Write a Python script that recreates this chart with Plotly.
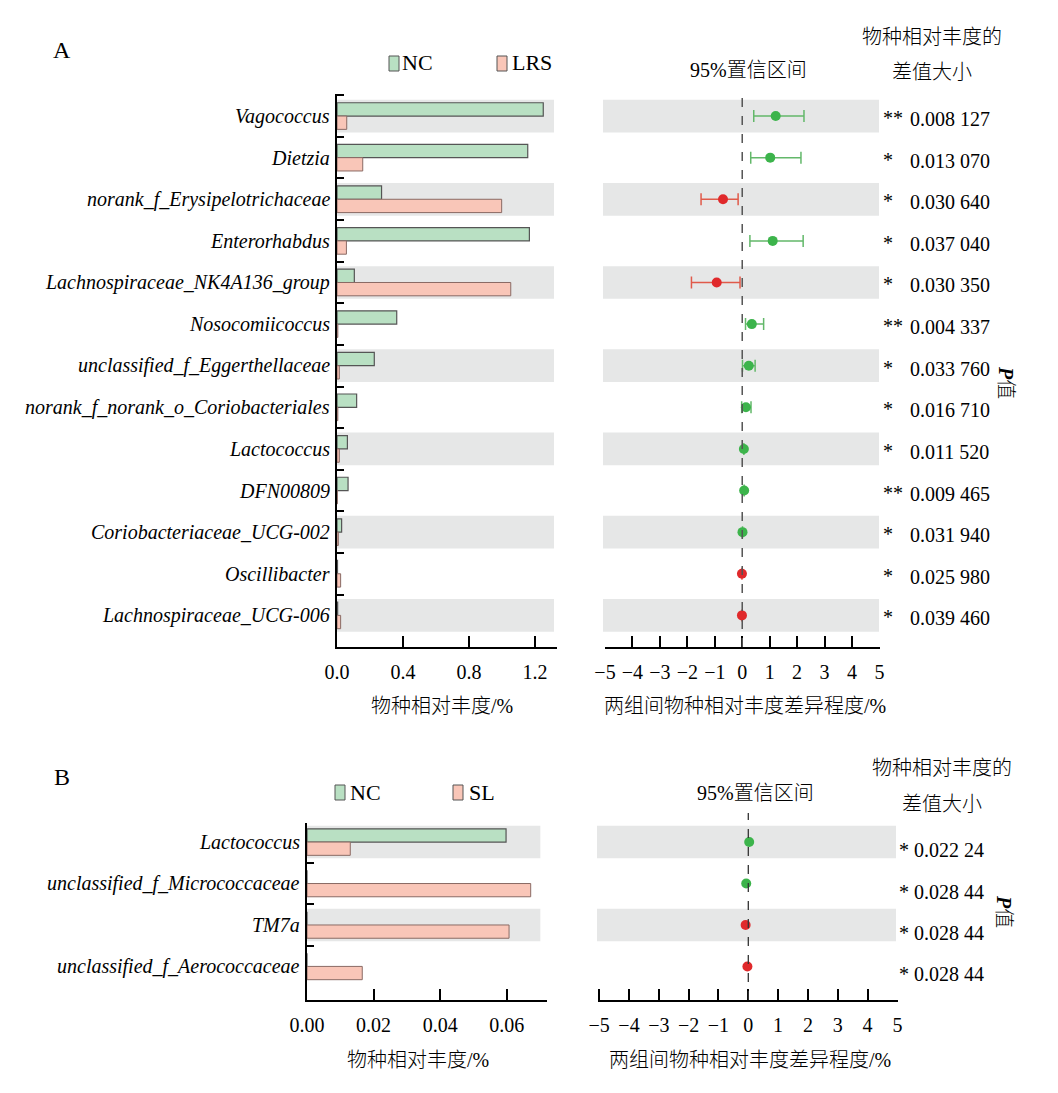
import plotly.graph_objects as go

# ---------------- data ----------------
taxa_A = ["Vagococcus", "Dietzia", "norank_f_Erysipelotrichaceae", "Enterorhabdus",
          "Lachnospiraceae_NK4A136_group", "Nosocomiicoccus", "unclassified_f_Eggerthellaceae",
          "norank_f_norank_o_Coriobacteriales", "Lactococcus", "DFN00809",
          "Coriobacteriaceae_UCG-002", "Oscillibacter", "Lachnospiraceae_UCG-006"]
nc_A = [1.25, 1.156, 0.27, 1.166, 0.105, 0.362, 0.226, 0.119, 0.063, 0.067, 0.028, 0.003, 0.004]
lrs_A = [0.059, 0.156, 0.998, 0.057, 1.053, 0.005, 0.014, 0.005, 0.014, 0.002, 0.008, 0.022, 0.022]
diff_A = [1.22, 1.02, -0.70, 1.11, -0.93, 0.35, 0.24, 0.135, 0.06, 0.07, 0.01, -0.01, -0.01]
lo_A = [0.42, 0.31, -1.50, 0.28, -1.85, 0.12, 0.01, -0.02, 0.04, 0.06, 0.0, -0.02, -0.02]
hi_A = [2.25, 2.14, -0.15, 2.22, -0.08, 0.78, 0.47, 0.32, 0.08, 0.08, 0.02, 0.0, 0.0]
grp_A = ["NC", "NC", "LRS", "NC", "LRS", "NC", "NC", "NC", "NC", "NC", "NC", "LRS", "LRS"]
star_A = ["**", "*", "*", "*", "*", "**", "*", "*", "*", "**", "*", "*", "*"]
p_A = ["0.008 127", "0.013 070", "0.030 640", "0.037 040", "0.030 350", "0.004 337",
       "0.033 760", "0.016 710", "0.011 520", "0.009 465", "0.031 940", "0.025 980", "0.039 460"]

taxa_B = ["Lactococcus", "unclassified_f_Micrococcaceae", "TM7a", "unclassified_f_Aerococcaceae"]
nc_B = [0.0598, 0.0, 0.0, 0.0]
sl_B = [0.013, 0.0672, 0.0607, 0.0166]
diff_B = [0.03, -0.07, -0.09, -0.03]
grp_B = ["NC", "NC", "SL", "SL"]
star_B = ["*", "*", "*", "*"]
p_B = ["0.022 24", "0.028 44", "0.028 44", "0.028 44"]

ticks_A_bar = [0, 0.4, 0.8, 1.2]
ticklab_A_bar = ["0.0", "0.4", "0.8", "1.2"]
ticks_B_bar = [0, 0.02, 0.04, 0.06]
ticklab_B_bar = ["0.00", "0.02", "0.04", "0.06"]
ticks_diff = [-5, -4, -3, -2, -1, 0, 1, 2, 3, 4, 5]
ticklab_diff = ["\u22125", "\u22124", "\u22123", "\u22122", "\u22121", "0", "1", "2", "3", "4", "5"]

# ---------------- styling ----------------
W, H = 1058, 1093
def px(x): return x / W
def py(y): return 1 - y / H

GREEN = "#b9e0c3"
PINK = "#f9c6b8"
BAR_LINE = "#555555"
PT_GREEN = "#3cb44b"
PT_RED = "#e0292b"
ERR_GREEN = "#63b86a"
ERR_RED = "#e05a4a"
BAND = "#e6e7e7"
SERIF = "Liberation Serif, Times New Roman, Noto Sans CJK SC, serif"
MIX = "Liberation Serif, Noto Sans CJK SC, serif"
FS = 20

fig = go.Figure()

idx_A = list(range(len(taxa_A)))
idx_B = list(range(len(taxa_B)))
BW = 0.32

# Panel A bars
fig.add_trace(go.Bar(x=nc_A, y=idx_A, orientation="h", width=BW, offset=-BW,
                     marker=dict(color=GREEN, line=dict(color=BAR_LINE, width=1.2)),
                     xaxis="x", yaxis="y", showlegend=False))
fig.add_trace(go.Bar(x=lrs_A, y=idx_A, orientation="h", width=BW, offset=0,
                     marker=dict(color=PINK, line=dict(color="#8a6a64", width=1.0)),
                     xaxis="x", yaxis="y", showlegend=False))

# Panel A CI
def ci_trace(diffs, los, his, idxs, color, ecolor, xa, ya):
    plus, minus = [], []
    for d, l, h in zip(diffs, los, his):
        if h - l < 0.1:
            plus.append(float("nan")); minus.append(float("nan"))
        else:
            plus.append(h - d); minus.append(d - l)
    return go.Scatter(x=diffs, y=idxs, mode="markers",
                      marker=dict(color=color, size=10),
                      error_x=dict(type="data", symmetric=False, array=plus, arrayminus=minus,
                                   color=ecolor, thickness=1.5, width=6),
                      xaxis=xa, yaxis=ya, showlegend=False)

for g, c, ec in [("NC", PT_GREEN, ERR_GREEN), ("LRS", PT_RED, ERR_RED)]:
    sel = [i for i in idx_A if grp_A[i] == g]
    fig.add_trace(ci_trace([diff_A[i] for i in sel], [lo_A[i] for i in sel],
                           [hi_A[i] for i in sel], sel, c, ec, "x2", "y2"))

# Panel B bars
fig.add_trace(go.Bar(x=nc_B, y=idx_B, orientation="h", width=BW, offset=-BW,
                     marker=dict(color=GREEN, line=dict(color=BAR_LINE, width=1.2)),
                     xaxis="x3", yaxis="y3", showlegend=False))
fig.add_trace(go.Bar(x=sl_B, y=idx_B, orientation="h", width=BW, offset=0,
                     marker=dict(color=PINK, line=dict(color="#8a6a64", width=1.0)),
                     xaxis="x3", yaxis="y3", showlegend=False))

# Panel B points
for g, c in [("NC", PT_GREEN), ("SL", PT_RED)]:
    sel = [i for i in idx_B if grp_B[i] == g]
    fig.add_trace(go.Scatter(x=[diff_B[i] for i in sel], y=sel, mode="markers",
                             marker=dict(color=c, size=10),
                             xaxis="x4", yaxis="y4", showlegend=False))

# ---------------- axes ----------------
def xax(domain, rng, tv, tt, anchor):
    return dict(domain=domain, range=rng, anchor=anchor, showline=True, linecolor="black",
                linewidth=2, ticks="inside", ticklen=11, tickwidth=2, tickcolor="black",
                tickvals=tv, ticktext=tt, tickfont=dict(family=SERIF, size=FS, color="black"),
                showgrid=False, zeroline=False, fixedrange=True, automargin=False,
                ticklabelstandoff=6)

def yax(domain, rng, anchor, n):
    return dict(domain=domain, range=rng, anchor=anchor, showline=True, linecolor="black",
                linewidth=2, ticks="inside", ticklen=7, tickwidth=2, tickcolor="black",
                tickvals=[i - 0.5 for i in range(n)], showticklabels=False, showgrid=False,
                zeroline=False, automargin=False, fixedrange=True)

yA_rng = [12.76, -0.53]
yB_rng = [3.81, -0.46]
fig.update_layout(
    template="none",
    xaxis=xax([px(337), px(557)], [0, 1.3333], ticks_A_bar, ticklab_A_bar, "y"),
    yaxis=yax([py(647), py(94)], yA_rng, "x", len(taxa_A)),
    xaxis2=xax([px(605), px(880)], [-5, 5.02], ticks_diff, ticklab_diff, "y2"),
    yaxis2=dict(domain=[py(647), py(94)], range=yA_rng, anchor="x2", visible=False, automargin=False),
    xaxis3=xax([px(307), px(547)], [0, 0.0721], ticks_B_bar, ticklab_B_bar, "y3"),
    yaxis3=yax([py(1000), py(823)], yB_rng, "x3", len(taxa_B)),
    xaxis4=xax([px(598), px(898)], [-5.04, 5.02], ticks_diff, ticklab_diff, "y4"),
    yaxis4=dict(domain=[py(1000), py(823)], range=yB_rng, anchor="x4", visible=False, automargin=False),
    barmode="overlay", showlegend=False,
    width=W, height=H, margin=dict(l=0, r=0, t=0, b=0, pad=0), autosize=False,
    paper_bgcolor="white", plot_bgcolor="rgba(0,0,0,0)",
)

# ---------------- shapes ----------------
shapes = []
HB = 0.393
for i in idx_A:
    if i % 2 == 0:
        shapes.append(dict(type="rect", xref="x", yref="y", x0=0, x1=1.315, y0=i - HB, y1=i + HB,
                           fillcolor=BAND, line=dict(width=0), layer="below"))
        shapes.append(dict(type="rect", xref="paper", yref="y2", x0=px(603), x1=px(879),
                           y0=i - HB, y1=i + HB, fillcolor=BAND, line=dict(width=0), layer="below"))
for i in idx_B:
    if i % 2 == 0:
        shapes.append(dict(type="rect", xref="x3", yref="y3", x0=0, x1=0.0701, y0=i - HB, y1=i + HB,
                           fillcolor=BAND, line=dict(width=0), layer="below"))
        shapes.append(dict(type="rect", xref="paper", yref="y4", x0=px(597), x1=px(896),
                           y0=i - HB, y1=i + HB, fillcolor=BAND, line=dict(width=0), layer="below"))
shapes.append(dict(type="line", xref="x2", yref="paper", x0=0, x1=0, y0=py(647), y1=py(90),
                   line=dict(color="#555555", width=1.5, dash="dash")))
shapes.append(dict(type="line", xref="x4", yref="paper", x0=0, x1=0, y0=py(1000), y1=py(813),
                   line=dict(color="#333333", width=1.3, dash="dash")))

def legsq(x0, x1, y0, y1, col, lc):
    return dict(type="rect", xref="paper", yref="paper", x0=px(x0), x1=px(x1), y0=py(y1), y1=py(y0),
                fillcolor=col, line=dict(color=lc, width=1))
shapes += [legsq(389, 399, 56, 71, GREEN, BAR_LINE), legsq(497, 507, 56, 71, PINK, "#555"),
           legsq(335, 345, 785, 800, GREEN, BAR_LINE), legsq(453, 463, 785, 800, PINK, "#555")]
fig.update_layout(shapes=shapes)

# ---------------- annotations ----------------
ann = []
def txt(x, y, s, size=FS, xanchor="center", yanchor="middle", family=MIX, yref="paper", angle=0,
        yshift=0, weight=None):
    f = dict(family=family, size=size, color="black")
    if weight is not None:
        f["weight"] = weight
    ann.append(dict(x=px(x), y=(py(y) if yref == "paper" else y), xref="paper", yref=yref, text=s,
                    showarrow=False, xanchor=xanchor, yanchor=yanchor, textangle=angle, yshift=yshift,
                    font=f))

for i, t in enumerate(taxa_A):
    txt(332, i, f"<i>{t}</i>", xanchor="right", yref="y", family=SERIF)
    txt(881, i, star_A[i], xanchor="left", yref="y", family=SERIF, yshift=-2)
    txt(908, i, p_A[i], xanchor="left", yref="y", family=SERIF, yshift=-3)
for i, t in enumerate(taxa_B):
    ann.append(dict(x=px(302), y=i, xref="paper", yref="y3", text=f"<i>{t}</i>", showarrow=False,
                    xanchor="right", yanchor="middle", font=dict(family=SERIF, size=FS, color="black")))
    ann.append(dict(x=px(897), y=i, xref="paper", yref="y3", text=f"{star_B[i]} {p_B[i]}", showarrow=False,
                    xanchor="left", yanchor="middle", yshift=-8,
                    font=dict(family=SERIF, size=FS, color="black")))

LW = 300
txt(62, 50, "A", size=24, family=SERIF)
txt(62, 777, "B", size=24, family=SERIF)
txt(400, 63, "NC", size=22, xanchor="left", family=SERIF)
txt(510, 63, "LRS", size=22, xanchor="left", family=SERIF)
txt(348, 792, "NC", size=22, xanchor="left", family=SERIF)
txt(467, 792, "SL", size=22, xanchor="left", family=SERIF)
txt(748, 70, "95%置信区间", size=20, weight=LW)
txt(755, 793, "95%置信区间", size=20, weight=LW)
txt(932, 37, "物种相对丰度的", size=20, weight=LW)
txt(932, 72, "差值大小", size=20, weight=LW)
txt(942, 768, "物种相对丰度的", size=20, weight=LW)
txt(942, 804, "差值大小", size=20, weight=LW)
txt(1006, 382, "<i><b>P</b></i>值", size=20, angle=90, weight=LW)
txt(1004, 911, "<i><b>P</b></i>值", size=20, angle=90, weight=LW)
txt(442, 706, "物种相对丰度/%", size=20, weight=LW)
txt(745, 706, "两组间物种相对丰度差异程度/%", size=20, weight=LW)
txt(418, 1060, "物种相对丰度/%", size=20, weight=LW)
txt(750, 1060, "两组间物种相对丰度差异程度/%", size=20, weight=LW)
fig.update_layout(annotations=ann)

fig.write_html("out.html", config={"displayModeBar": False},
               post_script="document.body.style.margin='0';document.body.style.overflow='hidden';")
